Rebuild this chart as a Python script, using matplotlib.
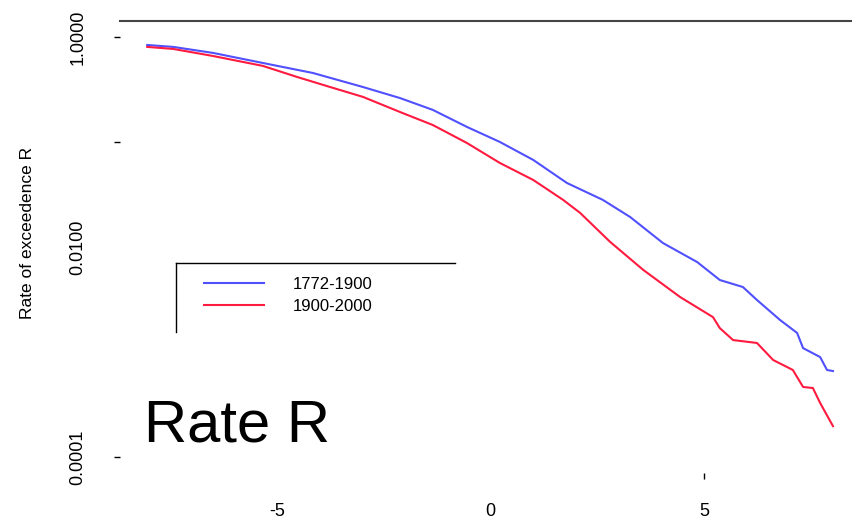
import matplotlib
matplotlib.use("Agg")
import matplotlib.pyplot as plt
from matplotlib.lines import Line2D

plt.rcParams['font.family'] = ['Liberation Sans', 'DejaVu Sans']

# values (x, rate of exceedence)
x_early = [-8.04, -7.43, -6.50, -5.33, -4.16, -2.99, -2.12, -1.35, -0.55, 0.22,
           1.00, 1.79, 2.63, 3.27, 4.04, 4.84, 5.37, 5.91, 6.24, 6.78,
           7.18, 7.32, 7.72, 7.88, 8.02]
r_early = [0.839, 0.804, 0.705, 0.565, 0.454, 0.334, 0.262, 0.202, 0.139, 0.100,
           0.0675, 0.0407, 0.0281, 0.0193, 0.0109, 0.00719, 0.00485, 0.00416, 0.00313, 0.00202,
           0.00152, 0.00109, 0.000895, 0.000675, 0.000659]

x_late = [-8.04, -7.43, -6.50, -5.33, -4.53, -3.76, -2.99, -2.12, -1.35, -0.55,
          0.22, 1.00, 1.70, 2.10, 2.80, 3.58, 4.44, 5.21, 5.37, 5.68,
          6.24, 6.62, 7.08, 7.32, 7.55, 7.72, 8.02]
r_late = [0.804, 0.769, 0.659, 0.530, 0.416, 0.334, 0.269, 0.193, 0.145, 0.0977,
          0.0631, 0.0435, 0.0281, 0.0211, 0.0112, 0.00604, 0.00334, 0.00215, 0.00169, 0.00130,
          0.00122, 0.000839, 0.000675, 0.000465, 0.000454, 0.000327, 0.000197]

labels = ['1772-1900', '1900-2000']
ytick_vals = [1e-4, 1e-3, 1e-2, 1e-1, 1.0]
ytick_labels = ['0.0001', '', '0.0100', '', '1.0000']
xtick_vals = [-5, 0, 5]

W, H = 853, 521
fig = plt.figure(figsize=(W / 100, H / 100), dpi=100)
ax = fig.add_axes([120 / W, 48 / H, (W - 120) / W, (473 - 21) / H])

ax.plot(x_early, r_early, color='#5050ff', lw=1.5, label=labels[0])
ax.plot(x_late, r_late, color='#ff1a40', lw=1.5, label=labels[1])

ax.set_yscale('log')
ax.set_xlim(-8.677, 8.489)
ax.set_ylim(7.05e-5, 1.419)

for s in ['left', 'right', 'bottom']:
    ax.spines[s].set_visible(False)
ax.spines['top'].set_color('#444444')
ax.spines['top'].set_linewidth(1.5)

ax.set_yticks(ytick_vals)
ax.set_yticklabels(ytick_labels, rotation=90, va='center', fontsize=13)
ax.yaxis.set_minor_locator(matplotlib.ticker.NullLocator())
ax.tick_params(axis='y', length=4.3, width=1, pad=20)
for t in ax.yaxis.get_major_ticks()[1:3]:
    t.tick1line.set_visible(False)

ax.set_xticks(xtick_vals)
ax.set_xticklabels([str(v) for v in xtick_vals], fontsize=13)
ax.tick_params(axis='x', length=4.3, width=1, pad=17)
for t in ax.xaxis.get_major_ticks()[:2]:
    t.tick1line.set_visible(False)

fig.text(28 / W, 1 - 233 / H, 'Rate of exceedence R', rotation=90,
         ha='center', va='center', fontsize=12.5)

leg = ax.legend(loc='upper left', bbox_to_anchor=(204 / W, 1 - 277 / H),
                bbox_transform=fig.transFigure, frameon=False, fontsize=12,
                borderpad=0, borderaxespad=0, handlelength=3.6,
                handletextpad=1.7, labelspacing=0.42)

# partial legend box (top and left edges)
fig.add_artist(Line2D([176 / W, 455 / W], [1 - 263 / H, 1 - 263 / H], color='black', lw=1))
fig.add_artist(Line2D([176 / W, 176 / W], [1 - 263 / H, 1 - 332 / H], color='black', lw=1))

fig.text(144 / W, (H - 441) / H, 'Rate R', fontsize=43, ha='left', va='baseline')

fig.savefig('out.png', dpi=100)
